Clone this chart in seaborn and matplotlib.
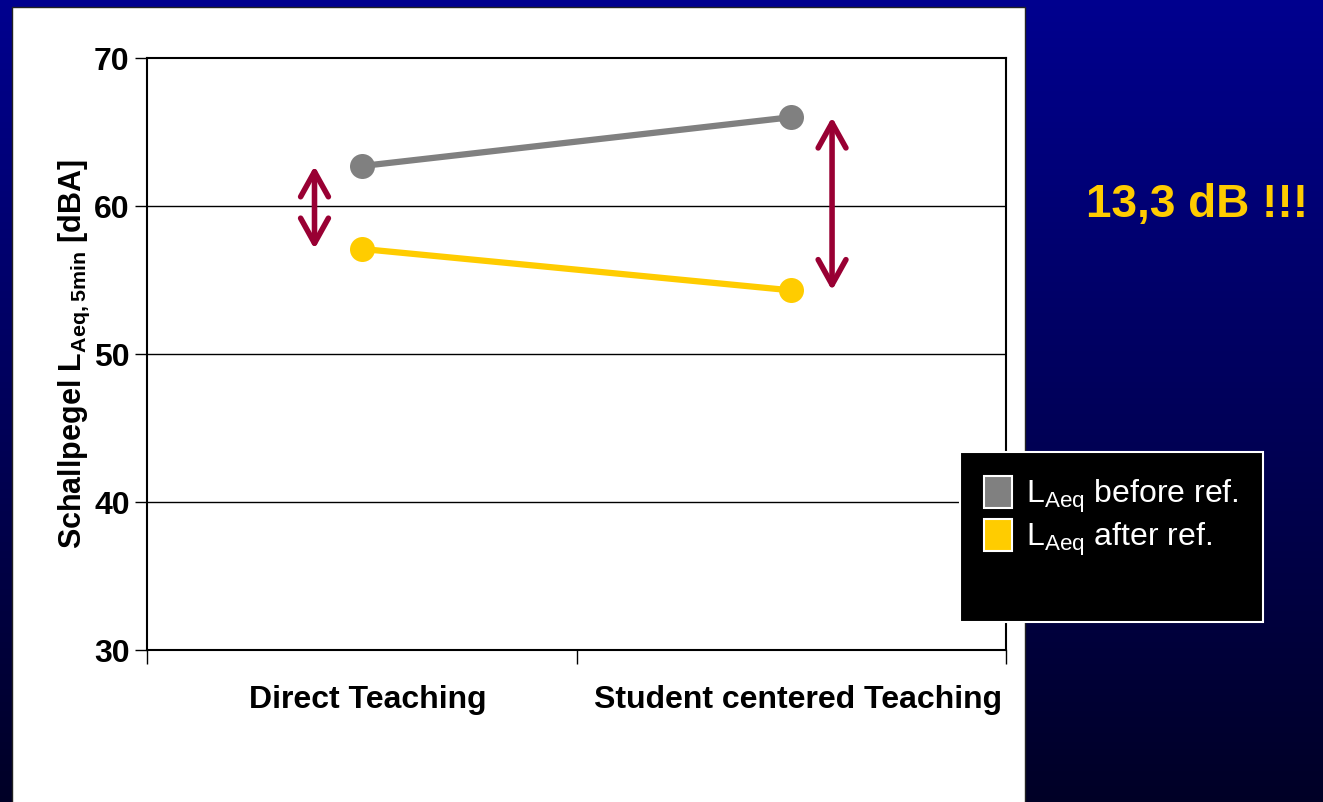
"""Sound level before/after refurbishment, two teaching modes."""

import matplotlib
matplotlib.use('Agg')
import matplotlib.pyplot as plt
from matplotlib.patches import Patch, Rectangle
import seaborn as sns
import pandas as pd
import numpy as np

# Data
modes = ['Direct Teaching', 'Student centered Teaching']
before_ref = [62.7, 66.0]
after_ref = [57.1, 54.3]
series_names = ['before', 'after']
series_labels = [r'L$_{\mathregular{Aeq}}$ before ref.', r'L$_{\mathregular{Aeq}}$ after ref.']
series_colors = ['#808080', '#FFCC00']
y_ticks = [30, 40, 50, 60, 70]
note_text = '13,3 dB !!!'

W, H = 1323, 802

sns.set_theme(style='white')
plt.rcParams['font.family'] = ['Liberation Sans', 'DejaVu Sans']
plt.rcParams['mathtext.fontset'] = 'custom'
plt.rcParams['mathtext.rm'] = 'Liberation Sans'
plt.rcParams['mathtext.bf'] = 'Liberation Sans:bold'

df = pd.DataFrame({
    'mode': modes * 2,
    'level': before_ref + after_ref,
    'series': [series_names[0]] * 2 + [series_names[1]] * 2,
})

fig = plt.figure(figsize=(W / 100, H / 100), dpi=100)

# Background: blue gradient plus white slide panel
bg = fig.add_axes([0, 0, 1, 1], zorder=-2)
grad = np.linspace(0, 1, 256).reshape(-1, 1)
top = np.array([0.0, 0.0, 0.56])
bottom = np.array([0.0, 0.0, 0.15])
img = top[None, None, :] * (1 - grad[..., None]) + bottom[None, None, :] * grad[..., None]
bg.imshow(img, extent=[0, W, H, 0], aspect='auto')
bg.add_patch(Rectangle((12, 7), 1013, 800, facecolor='white', edgecolor='#222222', lw=1))
bg.set_xlim(0, W)
bg.set_ylim(H, 0)
bg.axis('off')

ax = fig.add_axes([147 / W, 1 - 650 / H, 859 / W, 592 / H], zorder=2)
ax.set_facecolor('white')

sns.lineplot(
    data=df, x='mode', y='level', hue='series',
    palette=dict(zip(series_names, series_colors)),
    marker='o', markersize=18, markeredgewidth=0,
    linewidth=4.5, legend=False, ax=ax, sort=False,
)

# Double arrows showing the spread between the two series
arrow_offsets = [-0.11, 0.095]
for i, off in enumerate(arrow_offsets):
    ax.annotate(
        '', xy=(i + off, after_ref[i]), xytext=(i + off, before_ref[i]),
        arrowprops=dict(arrowstyle='<->,head_length=0.9,head_width=0.5',
                        color='#990033', lw=4, mutation_scale=20,
                        shrinkA=0, shrinkB=0, joinstyle='round', capstyle='round'),
    )

ax.set_xlim(-0.5, 1.5)
ax.set_ylim(30, 70)
ax.set_yticks(y_ticks)
ax.set_yticklabels([str(t) for t in y_ticks], fontsize=23, fontweight='bold', color='black')
ax.set_xticks([-0.5, 0.5, 1.5])
ax.set_xticklabels([])
ax.set_xticks([0.015, 1.015], minor=True)
ax.set_xticklabels(modes, minor=True, fontsize=23, fontweight='bold', color='black')
ax.tick_params(axis='x', which='major', direction='out', length=10, width=1, color='black', bottom=True)
ax.tick_params(axis='x', which='minor', length=0, pad=25, bottom=True)
ax.tick_params(axis='y', direction='out', length=9, width=1, color='black', pad=3.5, left=True)
for y in y_ticks[1:-1]:
    ax.axhline(y, color='black', lw=1, zorder=0.5)
for sp in ax.spines.values():
    sp.set_color('black')
    sp.set_linewidth(1.5)
ax.set_xlabel('')
ax.set_ylabel(r'Schallpegel L$_{\mathbf{Aeq,5min}}$ [dBA]', fontsize=22, fontweight='bold', color='black')
ax.yaxis.set_label_coords(-0.064, 0.5)

# Legend box
fig.patches.append(Rectangle((960 / W, 1 - 622 / H), 303 / W, 170 / H, transform=fig.transFigure,
                             facecolor='black', edgecolor='white', lw=1.5, zorder=3))
handles = [Patch(facecolor=c, edgecolor='white', lw=1.5) for c in series_colors]
leg = fig.legend(handles, series_labels, loc='upper left', bbox_to_anchor=(968 / W, 1 - 460 / H),
                 bbox_transform=fig.transFigure, frameon=False, fontsize=23, labelcolor='white',
                 handlelength=0.88, handleheight=1.15, handletextpad=0.45, labelspacing=0.12, borderpad=0)
leg.set_zorder(5)

fig.text(1197 / W, 1 - 205 / H, note_text, color='#FFCC00', fontsize=33, fontweight='bold',
         ha='center', va='center')

fig.savefig('out.png', dpi=100)
